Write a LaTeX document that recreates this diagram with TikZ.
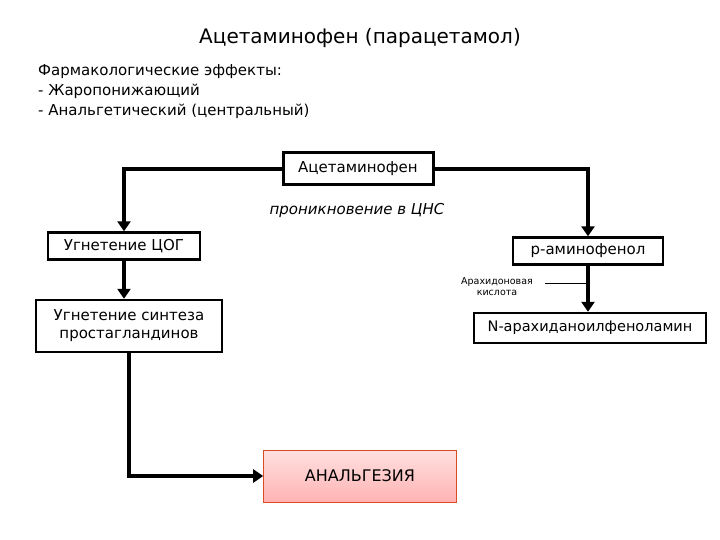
\documentclass[tikz,border=0pt]{standalone}
\usepackage{fontspec}
\setmainfont{DejaVu Sans}
\usetikzlibrary{arrows.meta}
\begin{document}
\begin{tikzpicture}[x=1pt,y=-1pt,
 bx/.style={draw,line width=2.4pt,inner sep=0pt,font=\fontsize{15}{18}\selectfont,align=center},
 ar/.style={line width=3.5pt,-{Triangle[length=10pt,width=13pt]}}]
\useasboundingbox (0,0) rectangle (720,540);
\node (title) at (360,38) {\fontsize{20}{24}\selectfont Ацетаминофен (парацетамол)};
\node (eff) [anchor=north west,align=left,font=\fontsize{15}{20}\selectfont,inner sep=0pt] at (38,64) {Фармакологические эффекты:\\- Жаропонижающий\\- Анальгетический (центральный)};
\node (ac) [bx,minimum width=150pt,minimum height=32pt,line width=3pt] at (358,169) {Ацетаминофен};
\node (cns) at (357,210) {\fontsize{15}{18}\selectfont\itshape проникновение в ЦНС};
\node (cog) [bx,minimum width=152pt,minimum height=27pt] at (124,246) {Угнетение ЦОГ};
\node (pam) [bx,minimum width=150pt,minimum height=27pt] at (588,251) {р-аминофенол};
\node (syn) [bx,minimum width=186pt,minimum height=52pt] at (129,326) {Угнетение синтеза\\простагландинов};
\node (nar) [bx,minimum width=232pt,minimum height=30pt,font=\fontsize{14.5}{17}\selectfont] at (590,328) {N-арахиданоилфеноламин};
\node (ara) [align=center,font=\fontsize{9.5}{11}\selectfont,inner sep=0pt] at (497,287) {Арахидоновая\\кислота};
\node (an) [draw=red!40!brown,line width=0.6pt,top color=red!12,bottom color=red!30,minimum width=193pt,minimum height=52pt,font=\fontsize{16}{19}\selectfont] at (360,476) {АНАЛЬГЕЗИЯ};
\draw[ar] (ac.west) -| (cog.north);
\draw[ar] (ac.east) -| (pam.north);
\draw[ar] (cog.south) -- (syn.north -| cog.south);
\draw[ar] (pam.south) -- (nar.north -| pam.south);
\coordinate (aj) at (590,283);
\draw[line width=0.6pt,-{Stealth[length=4pt]}] (545,283) -- (aj);
\draw[ar] (syn.south) |- (an.west);
\end{tikzpicture}
\end{document}
